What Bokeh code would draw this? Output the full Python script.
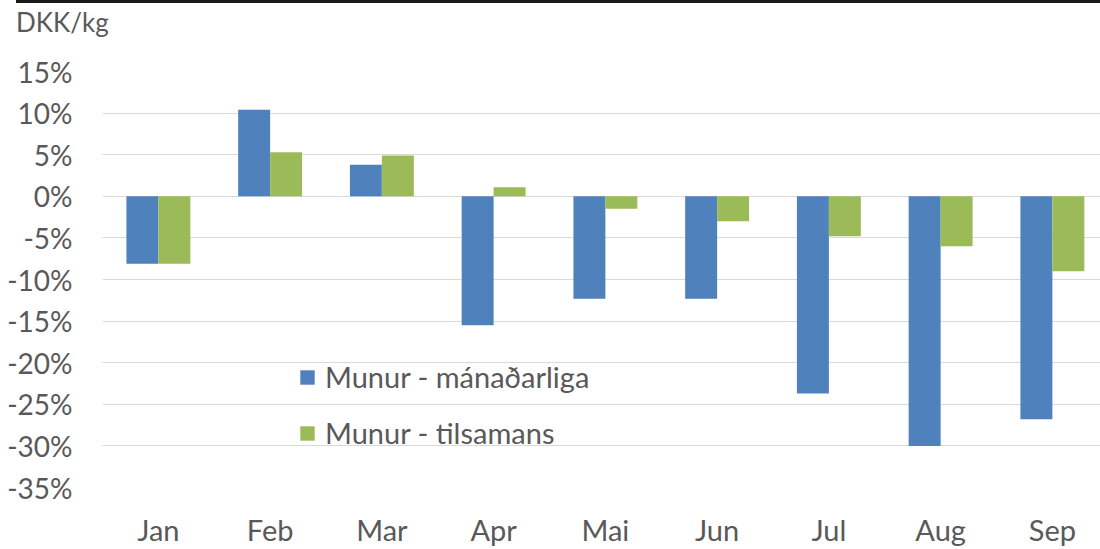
from bokeh.plotting import figure
from bokeh.models import Range1d, FixedTicker, Legend, LegendItem, ColumnDataSource, Div
from bokeh.layouts import column
from bokeh.embed import file_html
from bokeh.resources import INLINE

months = ["Jan", "Feb", "Mar", "Apr", "Mai", "Jun", "Jul", "Aug", "Sep"]
monthly = [-8.1, 10.4, 3.8, -15.5, -12.3, -12.3, -23.7, -30.0, -26.8]
cumulative = [-8.1, 5.3, 4.9, 1.1, -1.5, -3.0, -4.8, -6.0, -9.0]
y_ticks = [-35, -30, -25, -20, -15, -10, -5, 0, 5, 10, 15]
series_names = ["Munur - mánaðarliga", "Munur - tilsamans"]
unit_label = "DKK/kg"

FONT = "Lato"
GREY = "#595959"
BLUE = "#4F81BD"
GREEN = "#9BBB59"

pos = [i + 1 for i in range(len(months))]
bw = 0.286
src = ColumnDataSource(dict(
    x1=[p_ - bw / 2 for p_ in pos],
    x2=[p_ + bw / 2 for p_ in pos],
    m=monthly, c=cumulative,
))

W, H = 1100, 549
head_h = 40
left_b, right_b, top_b, bottom_b = 102, 0, 71 - head_h, 62
frame_w = W - left_b - right_b
step = 111.75

header = Div(
    text=(f'<div style="width:{W - 16}px; border-top:3px solid #1a1a1a; margin-left:16px; '
          f'padding-top:4px; font-family:{FONT}; font-size:26px; line-height:30px; '
          f'color:{GREY};">{unit_label}</div>'),
    width=W, height=head_h, margin=(0, 0, 0, 0))

p = figure(width=W, height=H - head_h, output_backend="svg", toolbar_location=None,
           x_range=Range1d(0.5, 0.5 + frame_w / step), y_range=Range1d(-35, 15),
           min_border_left=left_b, min_border_right=right_b,
           min_border_top=top_b, min_border_bottom=bottom_b, margin=(0, 0, 0, 0))
p.outline_line_color = None
p.background_fill_color = "white"
p.border_fill_color = "white"

r1 = p.vbar(x="x1", top="m", bottom=0, width=bw, source=src, fill_color=BLUE, line_color=None)
r2 = p.vbar(x="x2", top="c", bottom=0, width=bw, source=src, fill_color=GREEN, line_color=None)

p.xaxis.ticker = FixedTicker(ticks=pos)
p.xaxis.major_label_overrides = {p_: m for p_, m in zip(pos, months)}
p.yaxis.ticker = FixedTicker(ticks=y_ticks)
p.yaxis.major_label_overrides = {v: f"{v}%" for v in y_ticks}

for ax in (p.xaxis, p.yaxis):
    ax.axis_line_color = None
    ax.major_tick_line_color = None
    ax.minor_tick_line_color = None
    ax.major_label_text_font = FONT
    ax.major_label_text_color = GREY
p.yaxis.major_label_text_font_size = "28px"
p.xaxis.major_label_text_font_size = "29px"
p.yaxis.major_label_standoff = 24
p.xaxis.major_label_standoff = 18

p.xgrid.grid_line_color = None
p.ygrid.ticker = FixedTicker(ticks=y_ticks)
p.ygrid.grid_line_color = "#D9D9D9"
p.ygrid.grid_line_width = 1

legend = Legend(items=[LegendItem(label=series_names[0], renderers=[r1]),
                       LegendItem(label=series_names[1], renderers=[r2])],
                location=(196, 37))
legend.glyph_width = 18
legend.glyph_height = 18
legend.label_text_font = FONT
legend.label_text_font_size = "29px"
legend.label_text_color = GREY
legend.label_standoff = 9
legend.spacing = 21
legend.padding = 0
legend.margin = 0
legend.border_line_color = None
legend.background_fill_alpha = 0
p.add_layout(legend)

layout = column(header, p, spacing=0)
open("out.html", "w").write(file_html(layout, INLINE))
